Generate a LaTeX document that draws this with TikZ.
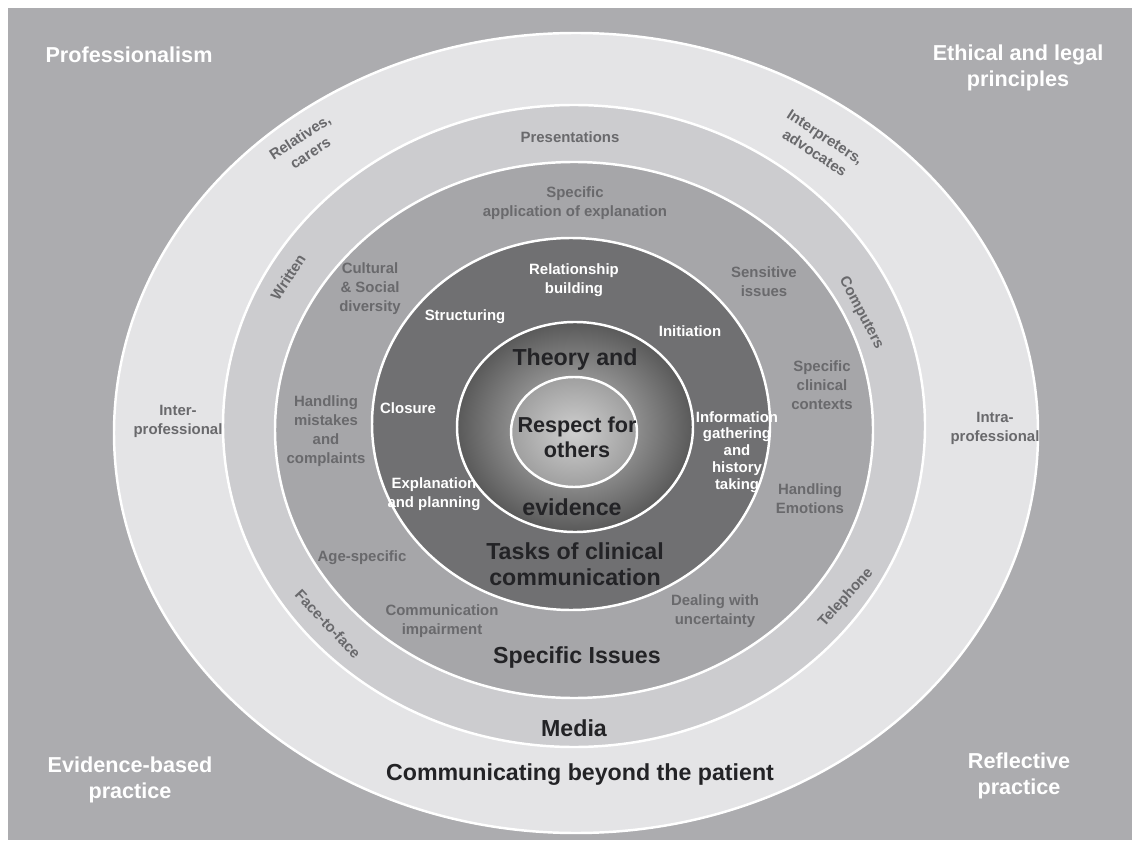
\documentclass[tikz,border=0pt]{standalone}
\usepackage{fontspec}
\setmainfont{Liberation Sans}
\usepackage{xcolor}
\definecolor{bggray}{RGB}{172,172,175}
\definecolor{outerring}{RGB}{228,228,230}
\definecolor{mediaring}{RGB}{204,204,207}
\definecolor{issuering}{RGB}{166,166,169}
\definecolor{taskring}{RGB}{112,112,114}
\definecolor{labelgray}{RGB}{105,105,108}
\definecolor{darktext}{RGB}{35,35,38}

\begin{document}
\begin{tikzpicture}[x=0.02cm, y=-0.02cm,
        ringline/.style={draw=white, line width=1.4pt},
        cornertext/.style={text=white, inner sep=0pt, align=center,
                           font=\fontsize{12.3}{15}\selectfont\bfseries},
        ringtext/.style={text=labelgray, inner sep=0pt, align=center,
                         font=\fontsize{8.5}{10.8}\selectfont\bfseries},
        tasktext/.style={text=white, inner sep=0pt, align=center,
                         font=\fontsize{8.5}{10.8}\selectfont\bfseries},
        bigtext/.style={text=darktext, inner sep=0pt, align=center,
                        font=\fontsize{13.2}{14.7}\selectfont\bfseries},
    ]
        \useasboundingbox (0,0) rectangle (1138,847);
        \fill[bggray] (8,8) rectangle (1132,840);

        % rings, from the outside in
        \filldraw[fill=outerring, ringline] (576,433) ellipse [x radius=462, y radius=400];
        \filldraw[fill=mediaring, ringline] (574,426) ellipse [x radius=351, y radius=321];
        \filldraw[fill=issuering, ringline] (574,430) ellipse [x radius=299, y radius=268];
        \filldraw[fill=taskring, ringline] (571,424) ellipse [x radius=199, y radius=186];
        \shadedraw[inner color=gray!45, outer color=black!65, ringline] (575,427) ellipse [x radius=118, y radius=105];
        \shadedraw[inner color=gray!38, outer color=gray!75, ringline] (574,432) ellipse [x radius=63, y radius=55];

        % corners
        \node[cornertext] (prof) at (129,55) {Professionalism};
        \node[cornertext] (ethics) at (1018,68) {Ethical and legal\\principles};
        \node[cornertext] (evid) at (130,780) {Evidence-based\\practice};
        \node[cornertext] (refl) at (1019,776) {Reflective\\practice};

        % communicating beyond the patient
        \node[ringtext, rotate=33] (relatives) at (305,145) {Relatives,\\carers};
        \node[ringtext, rotate=-33] (interp) at (820,145) {Interpreters,\\advocates};
        \node[ringtext] (interpro) at (178,421) {Inter-\\professional};
        \node[ringtext] (intrapro) at (995,428) {Intra-\\professional};
        \node[bigtext] (beyond) at (580,775) {Communicating beyond the patient};

        % media
        \node[ringtext] (present) at (570,137) {Presentations};
        \node[ringtext, rotate=57] (written) at (288,277) {Written};
        \node[ringtext, rotate=-62] (computers) at (861,313) {Computers};
        \node[ringtext, rotate=-47] (face) at (328,624) {Face-to-face};
        \node[ringtext, rotate=48] (phone) at (846,598) {Telephone};
        \node[bigtext] (media) at (574,728) {Media};

        % specific issues
        \node[ringtext] (specapp) at (575,203) {Specific\\application of explanation};
        \node[ringtext] (cultural) at (370,289) {Cultural\\\& Social\\diversity};
        \node[ringtext] (sensitive) at (764,282) {Sensitive\\issues};
        \node[ringtext] (clinctx) at (822,385) {Specific\\clinical\\contexts};
        \node[ringtext] (mistakes) at (326,431) {Handling\\mistakes\\and\\complaints};
        \node[ringtext] (emotions) at (810,499) {Handling\\Emotions};
        \node[ringtext] (agespec) at (362,558) {Age-specific};
        \node[ringtext] (commimp) at (442,621) {Communication\\impairment};
        \node[ringtext] (uncert) at (715,611) {Dealing with\\uncertainty};
        \node[bigtext] (specissues) at (577,657) {Specific Issues};

        % tasks of clinical communication
        \node[tasktext] (relbuild) at (574,280) {Relationship\\building};
        \node[tasktext] (structuring) at (465,317) {Structuring};
        \node[tasktext] (initiation) at (690,331) {Initiation};
        \node[tasktext] (closure) at (408,408) {Closure};
        \node[tasktext, font=\fontsize{8.5}{9.6}\selectfont\bfseries] (infogather) at (737,452) {Information\\gathering\\and\\history\\taking};
        \node[tasktext] (explplan) at (434,494) {Explanation\\and planning};
        \node[bigtext] (tasks) at (575,564) {Tasks of clinical\\communication};

        % theory and evidence, respect
        \node[bigtext] (theory) at (575,360) {Theory and};
        \node[bigtext] (evidence) at (572,507) {evidence};
        \node[bigtext, font=\fontsize{12.3}{14.2}\selectfont\bfseries] (respect) at (577,437) {Respect for\\others};
    \end{tikzpicture}
\end{document}
